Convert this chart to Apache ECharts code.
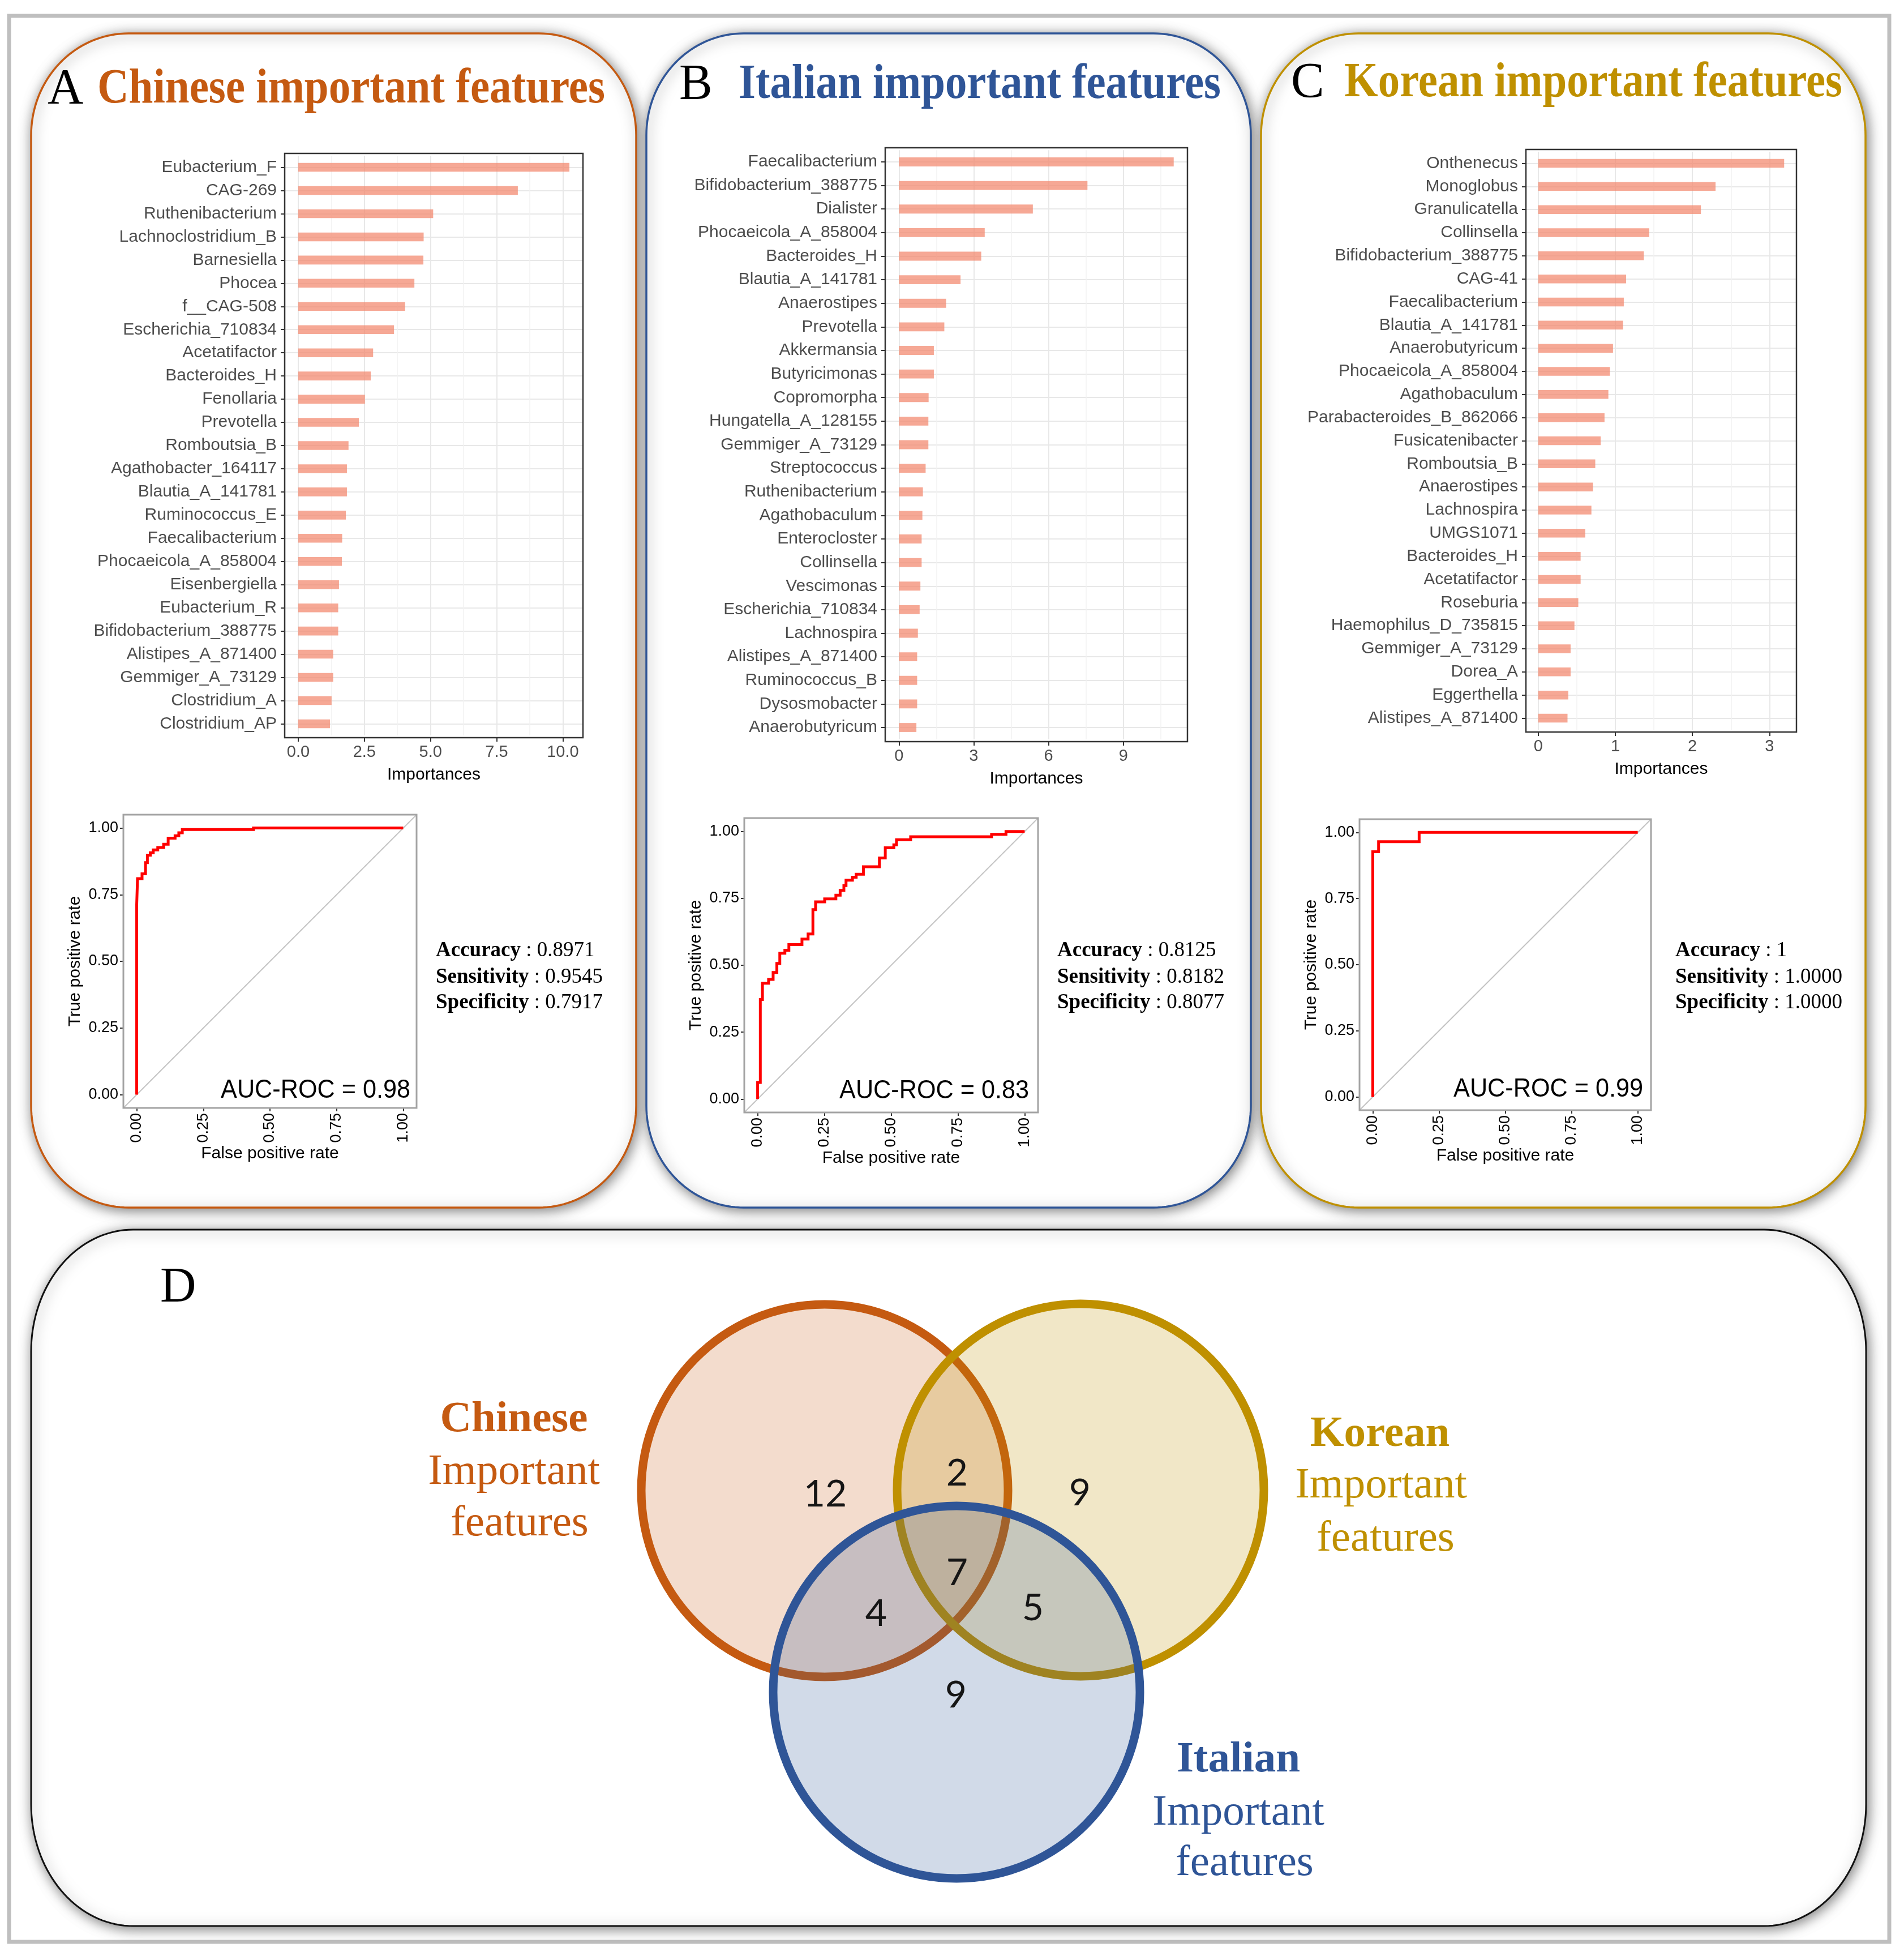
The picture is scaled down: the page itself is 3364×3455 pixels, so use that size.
<!DOCTYPE html>
<html><head><meta charset="utf-8">
<script src="https://cdn.jsdelivr.net/npm/echarts@6/dist/echarts.min.js"></script>
<style>html,body{margin:0;padding:0;background:#fff}#c{width:3364px;height:3455px}</style>
</head><body><div id="c"></div><script>
// ---------------- DATA ----------------
const chineseFeatures = ['Eubacterium_F','CAG-269','Ruthenibacterium','Lachnoclostridium_B','Barnesiella','Phocea','f__CAG-508','Escherichia_710834','Acetatifactor','Bacteroides_H','Fenollaria','Prevotella','Romboutsia_B','Agathobacter_164117','Blautia_A_141781','Ruminococcus_E','Faecalibacterium','Phocaeicola_A_858004','Eisenbergiella','Eubacterium_R','Bifidobacterium_388775','Alistipes_A_871400','Gemmiger_A_73129','Clostridium_A','Clostridium_AP'];
const chineseImportance = [10.25,8.30,5.10,4.74,4.73,4.39,4.04,3.62,2.83,2.74,2.52,2.29,1.90,1.84,1.84,1.80,1.66,1.65,1.54,1.51,1.51,1.32,1.32,1.26,1.20];

const italianFeatures = ['Faecalibacterium','Bifidobacterium_388775','Dialister','Phocaeicola_A_858004','Bacteroides_H','Blautia_A_141781','Anaerostipes','Prevotella','Akkermansia','Butyricimonas','Copromorpha','Hungatella_A_128155','Gemmiger_A_73129','Streptococcus','Ruthenibacterium','Agathobaculum','Enterocloster','Collinsella','Vescimonas','Escherichia_710834','Lachnospira','Alistipes_A_871400','Ruminococcus_B','Dysosmobacter','Anaerobutyricum'];
const italianImportance = [11.02,7.56,5.37,3.44,3.30,2.47,1.89,1.82,1.40,1.40,1.19,1.18,1.18,1.07,0.96,0.94,0.91,0.91,0.86,0.83,0.76,0.73,0.73,0.73,0.70];

const koreanFeatures = ['Onthenecus','Monoglobus','Granulicatella','Collinsella','Bifidobacterium_388775','CAG-41','Faecalibacterium','Blautia_A_141781','Anaerobutyricum','Phocaeicola_A_858004','Agathobaculum','Parabacteroides_B_862066','Fusicatenibacter','Romboutsia_B','Anaerostipes','Lachnospira','UMGS1071','Bacteroides_H','Acetatifactor','Roseburia','Haemophilus_D_735815','Gemmiger_A_73129','Dorea_A','Eggerthella','Alistipes_A_871400'];
const koreanImportance = [3.19,2.30,2.11,1.44,1.37,1.14,1.11,1.10,0.97,0.93,0.91,0.86,0.81,0.74,0.71,0.69,0.61,0.55,0.55,0.52,0.47,0.42,0.42,0.39,0.38];

const chineseTicks = [0,2.5,5,7.5,10];
const chineseTickLabels = ['0.0','2.5','5.0','7.5','10.0'];
const chineseMinor = [1.25,3.75,6.25,8.75];
const italianTicks = [0,3,6,9];
const italianTickLabels = ['0','3','6','9'];
const italianMinor = [1.5,4.5,7.5,10.5];
const koreanTicks = [0,1,2,3];
const koreanTickLabels = ['0','1','2','3'];
const koreanMinor = [0.5,1.5,2.5];

const rocTicks = [0,0.25,0.5,0.75,1];
const rocTickLabels = ['0.00','0.25','0.50','0.75','1.00'];

const chineseFpr = [0,0,0.003,0.003,0.02,0.02,0.033,0.033,0.04,0.04,0.051,0.051,0.062,0.062,0.079,0.079,0.101,0.101,0.118,0.118,0.144,0.144,0.158,0.158,0.171,0.171,0.438,0.438,1];
const chineseTpr = [0,0.713,0.713,0.81,0.81,0.828,0.828,0.87,0.87,0.898,0.898,0.907,0.907,0.918,0.918,0.927,0.927,0.939,0.939,0.962,0.962,0.971,0.971,0.982,0.982,0.994,0.994,1,1];

const italianFpr = [0,0,0.01,0.01,0.018,0.018,0.041,0.041,0.058,0.058,0.072,0.072,0.083,0.083,0.102,0.102,0.117,0.117,0.166,0.166,0.189,0.189,0.207,0.207,0.217,0.217,0.251,0.251,0.293,0.293,0.309,0.309,0.323,0.323,0.331,0.331,0.355,0.355,0.369,0.369,0.396,0.396,0.456,0.456,0.478,0.478,0.51,0.51,0.52,0.52,0.573,0.573,0.876,0.876,0.93,0.93,1];
const italianTpr = [0,0.062,0.062,0.372,0.372,0.433,0.433,0.447,0.447,0.473,0.473,0.507,0.507,0.545,0.545,0.556,0.556,0.577,0.577,0.598,0.598,0.617,0.617,0.708,0.708,0.737,0.737,0.748,0.748,0.762,0.762,0.78,0.78,0.798,0.798,0.818,0.818,0.829,0.829,0.84,0.84,0.868,0.868,0.901,0.901,0.939,0.939,0.95,0.95,0.969,0.969,0.98,0.98,0.989,0.989,1,1];

const koreanFpr = [0,0,0.022,0.022,0.175,0.175,1];
const koreanTpr = [0,0.927,0.927,0.965,0.965,1,1];

const aucValues = ['0.98','0.83','0.99'];
const metricNames = ['Accuracy','Sensitivity','Specificity'];
const chineseMetrics = ['0.8971','0.9545','0.7917'];
const italianMetrics = ['0.8125','0.8182','0.8077'];
const koreanMetrics = ['1','1.0000','1.0000'];

const vennRegions = ['Chinese only','Korean only','Italian only','Chinese & Korean','Chinese & Italian','Korean & Italian','All three'];
const vennCounts = [12,9,9,2,4,5,7];

// ---------------- LAYOUT / STYLE ----------------
const W = 3364, H = 3455;
const SANS = '"Liberation Sans", Arial, sans-serif';
const SERIF = '"Liberation Serif", "Times New Roman", serif';
const panels = [
  {letter:'A', color:'#C55A11', title:'Chinese important features', cats:chineseFeatures, vals:chineseImportance,
   ticks:chineseTicks, tickLabels:chineseTickLabels, minor:chineseMinor,
   fpr:chineseFpr, tpr:chineseTpr, auc:aucValues[0], metrics:chineseMetrics,
   frame:{x:55,y:59,w:1069,h:2074}, letterX:84, titleX:172, titleW:897, base:186,
   box:{x:503,y:271,w:527,h:1032}, roc:{x:218,y:1439,w:518,h:518}, aucRight:725, aucBase:1940, metX:770},
  {letter:'B', color:'#2F5597', title:'Italian important features', cats:italianFeatures, vals:italianImportance,
   ticks:italianTicks, tickLabels:italianTickLabels, minor:italianMinor,
   fpr:italianFpr, tpr:italianTpr, auc:aucValues[1], metrics:italianMetrics,
   frame:{x:1142,y:59,w:1068,h:2074}, letterX:1200, titleX:1305, titleW:852, base:178,
   box:{x:1564,y:261,w:534,h:1049}, roc:{x:1315,y:1445,w:519,h:520}, aucRight:1818, aucBase:1941, metX:1868},
  {letter:'C', color:'#BF9000', title:'Korean important features', cats:koreanFeatures, vals:koreanImportance,
   ticks:koreanTicks, tickLabels:koreanTickLabels, minor:koreanMinor,
   fpr:koreanFpr, tpr:koreanTpr, auc:aucValues[2], metrics:koreanMetrics,
   frame:{x:2228,y:59,w:1068,h:2074}, letterX:2281, titleX:2375, titleW:880, base:175,
   box:{x:2696,y:264,w:478,h:1029}, roc:{x:2402,y:1447,w:515,h:514}, aucRight:2903, aucBase:1938, metX:2960}
];
const metricBaselines = [1691,1738,1783];
const panelShadow = {shadowBlur:22, shadowOffsetX:3, shadowOffsetY:4, shadowColor:'rgba(0,0,0,0.5)'};

const mctx = document.createElement('canvas').getContext('2d');
function textW(t, font){ mctx.font = font; return mctx.measureText(t).width; }
// rounded rectangle outline with elliptical corners, as polygon points
function roundRectPoints(x,y,w,h,rx,ry){
  const pts=[], N=36;
  const corners = [
    [x+w-rx, y+ry, -Math.PI/2, 0],
    [x+w-rx, y+h-ry, 0, Math.PI/2],
    [x+rx, y+h-ry, Math.PI/2, Math.PI],
    [x+rx, y+ry, Math.PI, 1.5*Math.PI]
  ];
  corners.forEach(c=>{
    for(let k=0;k<=N;k++){ const a=c[2]+(c[3]-c[2])*k/N; pts.push([c[0]+rx*Math.cos(a), c[1]+ry*Math.sin(a)]); }
  });
  return pts;
}

const grids=[], xAxes=[], yAxes=[], series=[], elements=[];

// outer frame
elements.push({type:'rect', silent:true, z:-2, shape:{x:16,y:28,width:3322,height:3402}, style:{fill:'none', stroke:'#bfbfbf', lineWidth:7}});

function pickLabel(ticks, labels){
  return function(v){ for(let k=0;k<ticks.length;k++){ if(Math.abs(ticks[k]-v)<1e-6) return labels[k]; } return ''; };
}

panels.forEach((p,i)=>{
  // panel frame
  elements.push({type:'polygon', silent:true, z:-1, shape:{points:roundRectPoints(p.frame.x,p.frame.y,p.frame.w,p.frame.h,172,180)},
    style:Object.assign({fill:'#fff', stroke:p.color, lineWidth:3.5}, panelShadow)});
  // letter + title
  const lf = '88px '+SERIF;
  elements.push({type:'text', silent:true, z:10, x:p.letterX, y:p.base-0.31*88,
    style:{text:p.letter, font:lf, fill:'#000', align:'left', verticalAlign:'middle'}});
  const tf = 'bold 87px '+SERIF;
  const sx = p.titleW / textW(p.title, tf);
  elements.push({type:'text', silent:true, z:10, x:p.titleX, y:p.base-0.31*87, scaleX:sx,
    style:{text:p.title, font:tf, fill:p.color, align:'left', verticalAlign:'middle'}});

  // ---- bar chart ----
  const n = p.cats.length;
  const band = p.box.h/(n+0.2);
  const sh = 0.1*band;
  const gi = grids.length;
  grids.push({left:p.box.x, top:p.box.y+sh, width:p.box.w, height:p.box.h-2*sh, containLabel:false, show:false});
  const maxV = Math.max.apply(null, p.vals), ex = 0.05*maxV;
  xAxes.push({gridIndex:gi, type:'value', min:-ex, max:maxV+ex, offset:sh,
    axisLine:{show:false, onZero:false}, splitLine:{show:false}, minorSplitLine:{show:false},
    axisTick:{show:true, customValues:p.ticks, length:7, lineStyle:{color:'#333', width:2}},
    axisLabel:{show:true, customValues:p.ticks, formatter:pickLabel(p.ticks,p.tickLabels), fontSize:29, color:'#4d4d4d', fontFamily:SANS, margin:11},
    name:'Importances', nameLocation:'middle', nameGap:51, nameTextStyle:{fontSize:30, color:'#000', fontFamily:SANS}});
  yAxes.push({gridIndex:gi, type:'category', data:p.cats, inverse:true,
    axisLine:{show:false, onZero:false}, splitLine:{show:false},
    axisTick:{show:true, alignWithLabel:true, length:7, lineStyle:{color:'#333', width:2}},
    axisLabel:{show:true, interval:0, fontSize:30, color:'#4d4d4d', fontFamily:SANS, margin:14}});
  series.push({type:'bar', xAxisIndex:gi, yAxisIndex:gi, data:p.vals, barWidth:'38%', silent:true, z:3,
    itemStyle:{color:'rgba(243,138,112,0.74)'}});
  const gl = [];
  p.cats.forEach(c=>gl.push({yAxis:c}));
  p.ticks.forEach(t=>gl.push({xAxis:t}));
  p.minor.forEach(t=>gl.push({xAxis:t, lineStyle:{color:'#f2f2f2', width:1.5, type:'solid'}}));
  series.push({type:'line', xAxisIndex:gi, yAxisIndex:gi, data:p.vals, symbol:'none', silent:true, z:1,
    lineStyle:{opacity:0, width:0},
    markLine:{silent:true, z:1, symbol:['none','none'], label:{show:false}, animation:false,
      lineStyle:{color:'#e8e8e8', width:2, type:'solid'}, emphasis:{disabled:true}, data:gl}});
  elements.push({type:'rect', silent:true, z:20, shape:{x:p.box.x,y:p.box.y,width:p.box.w,height:p.box.h},
    style:{fill:'none', stroke:'#333', lineWidth:2.5}});

  // ---- ROC ----
  const ri = grids.length;
  grids.push({left:p.roc.x, top:p.roc.y, width:p.roc.w, height:p.roc.h, containLabel:false, show:false});
  xAxes.push({gridIndex:ri, type:'value', min:-0.05, max:1.05,
    axisLine:{show:false, onZero:false}, splitLine:{show:false},
    axisTick:{show:true, customValues:rocTicks, length:6, lineStyle:{color:'#333', width:2}},
    axisLabel:{show:true, customValues:rocTicks, formatter:pickLabel(rocTicks,rocTickLabels), rotate:90, fontSize:27, color:'#000', fontFamily:SANS, margin:9},
    name:'False positive rate', nameLocation:'middle', nameGap:64, nameTextStyle:{fontSize:30, color:'#000', fontFamily:SANS}});
  yAxes.push({gridIndex:ri, type:'value', min:-0.05, max:1.05,
    axisLine:{show:false, onZero:false}, splitLine:{show:false},
    axisTick:{show:true, customValues:rocTicks, length:6, lineStyle:{color:'#333', width:2}},
    axisLabel:{show:true, customValues:rocTicks, formatter:pickLabel(rocTicks,rocTickLabels), fontSize:27, color:'#000', fontFamily:SANS, margin:9},
    name:'True positive rate', nameLocation:'middle', nameGap:70, nameTextStyle:{fontSize:30, color:'#000', fontFamily:SANS}});
  series.push({type:'line', xAxisIndex:ri, yAxisIndex:ri, data:[[-0.05,-0.05],[1.05,1.05]], symbol:'none', silent:true, z:2,
    lineStyle:{color:'#c4c4c4', width:2}});
  series.push({type:'line', xAxisIndex:ri, yAxisIndex:ri, data:p.fpr.map((f,j)=>[f,p.tpr[j]]), symbol:'none', silent:true, z:3,
    lineStyle:{color:'#ff0000', width:5, join:'miter'}});
  elements.push({type:'rect', silent:true, z:20, shape:{x:p.roc.x,y:p.roc.y,width:p.roc.w,height:p.roc.h},
    style:{fill:'none', stroke:'#a3a3a3', lineWidth:3}});
  const af = '45px '+SANS;
  elements.push({type:'text', silent:true, z:10, x:p.aucRight, y:p.aucBase-0.31*45, scaleX:0.96, scaleY:1.04,
    style:{text:'AUC-ROC = '+p.auc, font:af, fill:'#000', align:'right', verticalAlign:'middle'}});
  metricNames.forEach((m,k)=>{
    elements.push({type:'text', silent:true, z:10, x:p.metX, y:metricBaselines[k]-0.31*37,
      style:{text:'{b|'+m+'} : '+p.metrics[k], font:'37px '+SERIF, fill:'#000', align:'left', verticalAlign:'middle',
        rich:{b:{fontWeight:'bold', fontSize:37, fontFamily:SERIF, fill:'#000'}}}});
  });
});

// ---- Panel D : Venn ----
elements.push({type:'polygon', silent:true, z:-1, shape:{points:roundRectPoints(55,2172,3242,1230,180,215)},
  style:Object.assign({fill:'#fff', stroke:'#111', lineWidth:3}, panelShadow)});
elements.push({type:'text', silent:true, z:10, x:283, y:2303-0.31*88, style:{text:'D', font:'88px '+SERIF, fill:'#000', align:'left', verticalAlign:'middle'}});

const vennSets = [
  {name:'Chinese', color:'#C55A11', fill:'rgba(197,90,17,0.21)', cx:1457, cy:2633, r:326,
   label:{x:[908,908,918], base:[2532,2625,2716]}},
  {name:'Korean', color:'#BF9000', fill:'rgba(191,144,0,0.22)', cx:1909, cy:2632, r:326,
   label:{x:[2438,2440,2448], base:[2558,2649,2743]}},
  {name:'Italian', color:'#2F5597', fill:'rgba(47,85,151,0.22)', cx:1690, cy:2989, r:326,
   label:{x:[2188,2188,2199], base:[3133,3227,3316]}}
];
vennSets.forEach((s,k)=>{
  elements.push({type:'ellipse', silent:true, z:2+k, shape:{cx:s.cx, cy:s.cy, rx:s.r-2, ry:s.r+3},
    style:{fill:s.fill, stroke:s.color, lineWidth:15}});
  const lines = [s.name, 'Important', 'features'];
  lines.forEach((t,j)=>{
    elements.push({type:'text', silent:true, z:10, x:s.label.x[j], y:s.label.base[j]-0.31*77,
      style:{text:t, font:(j===0?'bold ':'')+'77px '+SERIF, fill:s.color, align:'center', verticalAlign:'middle'}});
  });
});
const vennPos = [[1458,2637],[1908,2635],[1689,2992],[1691,2600],[1548,2848],[1825,2838],[1691,2776]];
vennCounts.forEach((v,k)=>{
  elements.push({type:'text', silent:true, z:10, x:vennPos[k][0], y:vennPos[k][1]+3,
    style:{text:String(v), font:'66px Lato, "Open Sans", sans-serif', fill:'#151515', align:'center', verticalAlign:'middle'}});
});

const chart = echarts.init(document.getElementById('c'), null, {renderer:'canvas', width:W, height:H});
chart.setOption({
  animation:false,
  backgroundColor:'#ffffff',
  grid:grids, xAxis:xAxes, yAxis:yAxes, series:series,
  graphic:{elements:elements}
});
</script></body></html>
